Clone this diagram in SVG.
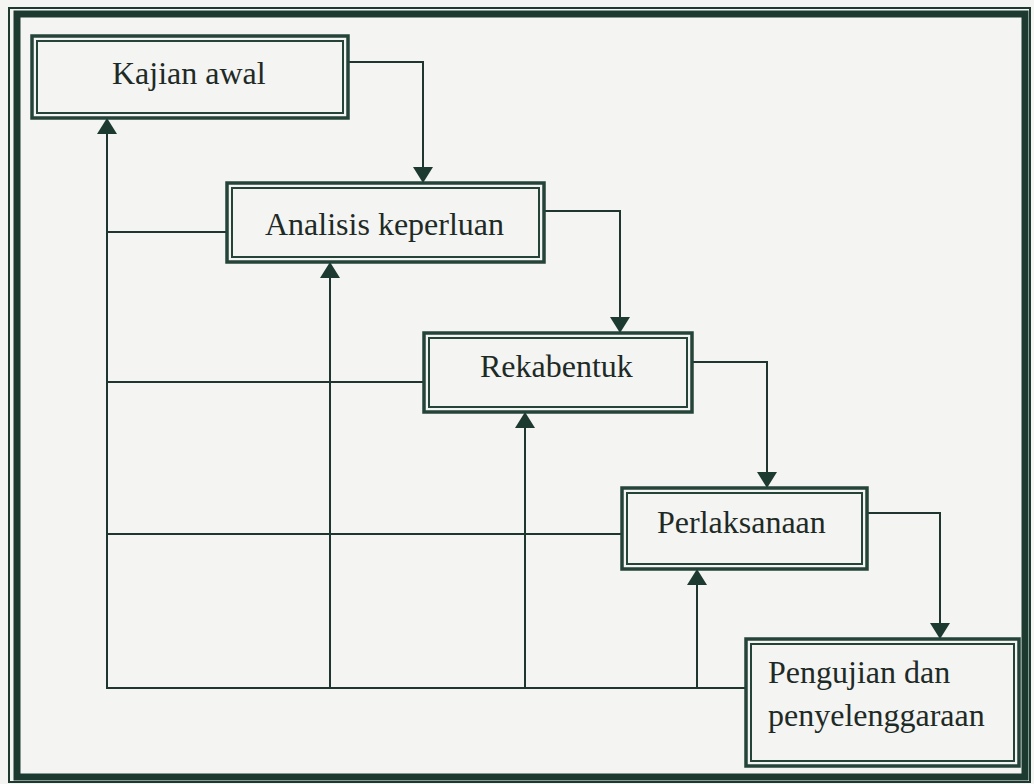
<svg xmlns="http://www.w3.org/2000/svg" width="1034" height="784" viewBox="0 0 1034 784">
  <style>
    .bg { fill: #f4f4f2; }
    .frame-thin { fill: none; stroke: #1d3a31; stroke-width: 2; }
    .frame-thick { fill: none; stroke: #1d3a31; stroke-width: 7; }
    .box-outer { fill: #f4f4f2; stroke: #24443a; stroke-width: 3.5; }
    .box-inner { fill: none; stroke: #24443a; stroke-width: 2; }
    .label { font-family: "Liberation Serif", "Times New Roman", serif; font-size: 32px; fill: #1e2a26; }
    .link { fill: none; stroke: #1f3630; stroke-width: 2; }
  </style>
  <defs>
    <!-- filled triangular arrowhead, 20 wide and 16 long -->
    <marker id="arrow" markerUnits="userSpaceOnUse" markerWidth="16" markerHeight="20" refX="15" refY="10" orient="auto">
      <path d="M0,0 L16,10 L0,20 Z" fill="#1d3a31"/>
    </marker>
  </defs>

  <rect class="bg" x="0" y="0" width="1034" height="784"/>

  <!-- page frame: thin outer rule and heavy inner rule -->
  <rect class="frame-thin" x="9" y="8" width="1021" height="774"/>
  <rect class="frame-thick" x="17" y="14" width="1008" height="763"/>

  <!-- connectors -->
  <g id="connectors">
    <!-- forward flow -->
    <polyline class="link" points="349,62 423,62 423,182" marker-end="url(#arrow)"/>
    <polyline class="link" points="545,211 620,211 620,332" marker-end="url(#arrow)"/>
    <polyline class="link" points="693,362 767,362 767,487" marker-end="url(#arrow)"/>
    <polyline class="link" points="868,513 940,513 940,638" marker-end="url(#arrow)"/>
    <!-- feedback paths -->
    <line class="link" x1="106" y1="688" x2="745" y2="688"/>
    <line class="link" x1="107" y1="688" x2="107" y2="119" marker-end="url(#arrow)"/>
    <line class="link" x1="107" y1="232" x2="226" y2="232"/>
    <line class="link" x1="107" y1="382" x2="423" y2="382"/>
    <line class="link" x1="107" y1="534" x2="621" y2="534"/>
    <line class="link" x1="330" y1="688" x2="330" y2="263" marker-end="url(#arrow)"/>
    <line class="link" x1="525" y1="688" x2="525" y2="413" marker-end="url(#arrow)"/>
    <line class="link" x1="697" y1="688" x2="697" y2="570" marker-end="url(#arrow)"/>
  </g>

  <g id="kajian-awal">
    <rect class="box-outer" x="32" y="36" width="316" height="82"/>
    <rect class="box-inner" x="37" y="41" width="306" height="72"/>
    <text class="label" x="112" y="84">Kajian awal</text>
  </g>

  <g id="analisis-keperluan">
    <rect class="box-outer" x="227" y="183" width="317" height="79"/>
    <rect class="box-inner" x="232" y="188" width="307" height="69"/>
    <text class="label" x="265" y="235">Analisis keperluan</text>
  </g>

  <g id="rekabentuk">
    <rect class="box-outer" x="424" y="333" width="268" height="79"/>
    <rect class="box-inner" x="429" y="338" width="258" height="69"/>
    <text class="label" x="480" y="377">Rekabentuk</text>
  </g>

  <g id="perlaksanaan">
    <rect class="box-outer" x="622" y="488" width="245" height="81"/>
    <rect class="box-inner" x="627" y="493" width="235" height="71"/>
    <text class="label" x="657" y="533">Perlaksanaan</text>
  </g>

  <g id="pengujian">
    <rect class="box-outer" x="746" y="639" width="273" height="127"/>
    <rect class="box-inner" x="751" y="644" width="263" height="117"/>
    <text class="label" x="768" y="683">Pengujian dan</text>
    <text class="label" x="768" y="726">penyelenggaraan</text>
  </g>
</svg>
